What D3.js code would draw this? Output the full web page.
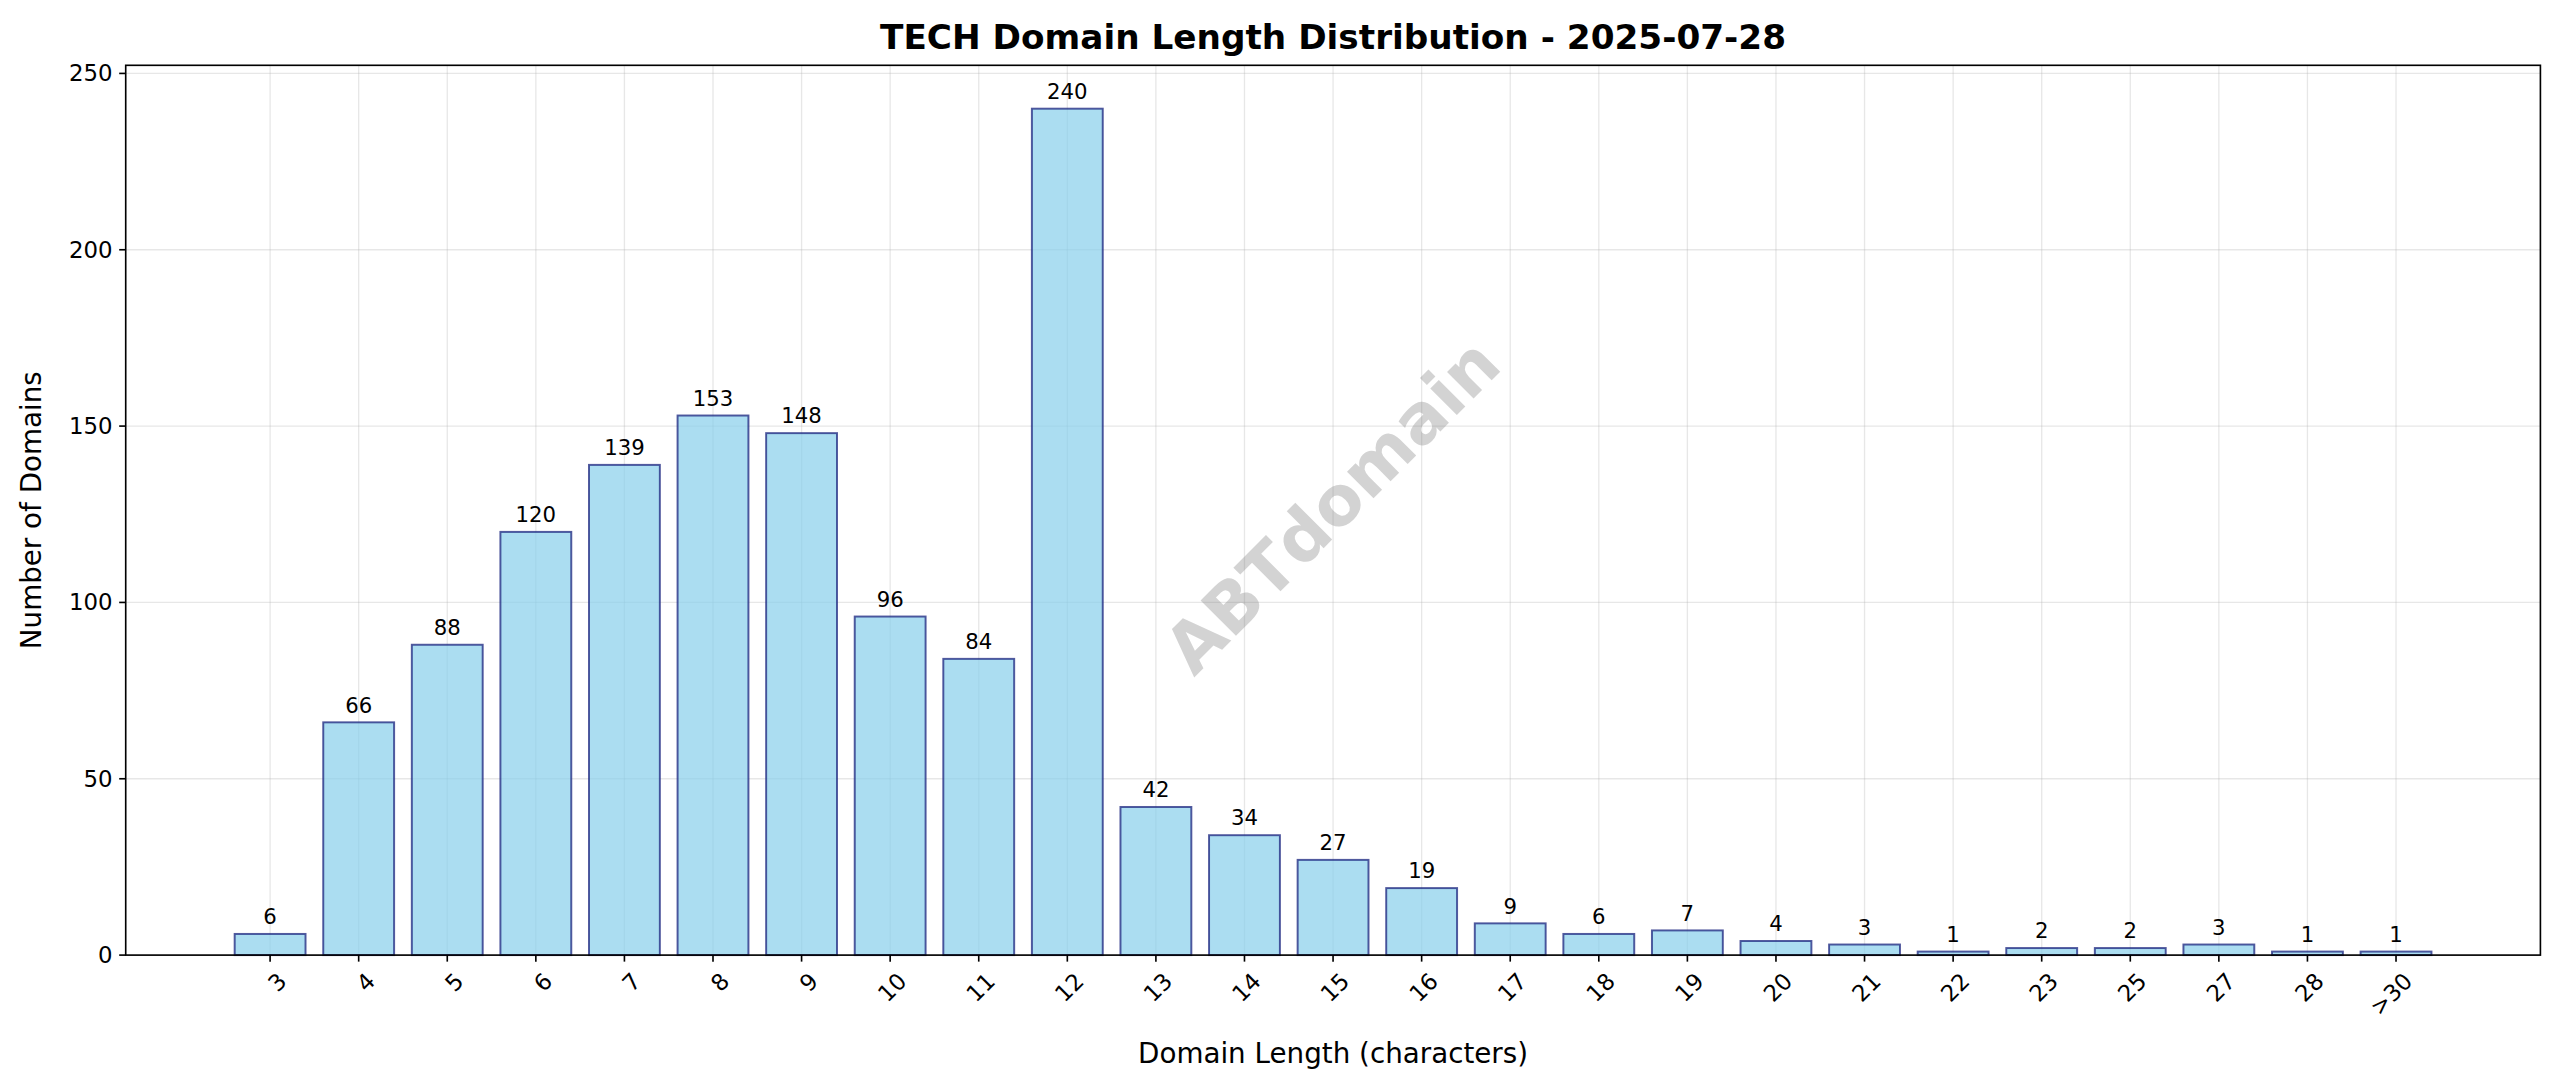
<!DOCTYPE html>
<html><head><meta charset="utf-8">
<script src="https://cdn.jsdelivr.net/npm/d3@7"></script>
<style>body{margin:0;background:#fff;font-family:"DejaVu Sans",sans-serif}</style>
</head><body><svg id="c" width="2560" height="1087"></svg>
<script>
const categories=["3","4","5","6","7","8","9","10","11","12","13","14","15","16","17","18","19","20","21","22","23","25","27","28",">30"];
const counts=[6,66,88,120,139,153,148,96,84,240,42,34,27,19,9,6,7,4,3,1,2,2,3,1,1];
const yTicks=[0,50,100,150,200,250];
const root=d3.select("#c");
const svg=root.append("g").attr("transform",`scale(${2560/1568})`);
const L=77,R=1556,T=40,B=585;
const x=d3.scaleLinear().domain([-1.63,categories.length-1+1.63]).range([L,R]);
const y=d3.scaleLinear().domain([0,252.3]).range([B,T]);
const g=svg.append("g");
g.selectAll(".gx").data(categories).join("line").attr("x1",(d,i)=>x(i)).attr("x2",(d,i)=>x(i)).attr("y1",T).attr("y2",B).attr("stroke","#b0b0b0").attr("stroke-opacity",0.3).attr("stroke-width",0.8);
g.selectAll(".gy").data(yTicks).join("line").attr("x1",L).attr("x2",R).attr("y1",d=>y(d)).attr("y2",d=>y(d)).attr("stroke","#b0b0b0").attr("stroke-opacity",0.3).attr("stroke-width",0.8);
const bw=x(0.4)-x(-0.4);
g.selectAll("rect.b").data(counts).join("rect").attr("x",(d,i)=>x(i)-bw/2).attr("width",bw).attr("y",d=>y(d)).attr("height",d=>B-y(d)).attr("fill","#87CEEB").attr("fill-opacity",0.7).attr("stroke","#1a237e").attr("stroke-opacity",0.75).attr("stroke-width",1.2);
g.selectAll("text.v").data(counts).join("text").attr("x",(d,i)=>x(i)).attr("y",d=>y(d)-6).attr("text-anchor","middle").attr("font-size",13).text(d=>d);
svg.append("text").attr("transform","translate(818,312) rotate(-45)").attr("text-anchor","middle").attr("dominant-baseline","middle").attr("font-size",42).attr("font-weight","bold").attr("fill","#808080").attr("fill-opacity",0.35).text("ABTdomain");
svg.append("rect").attr("x",L).attr("y",T).attr("width",R-L).attr("height",B-T).attr("fill","none").attr("stroke","#000").attr("stroke-width",1);
yTicks.forEach(t=>{svg.append("line").attr("x1",L-4).attr("x2",L).attr("y1",y(t)).attr("y2",y(t)).attr("stroke","#000");
svg.append("text").attr("x",L-8).attr("y",y(t)).attr("dy","0.35em").attr("text-anchor","end").attr("font-size",14).text(t);});
categories.forEach((c,i)=>{svg.append("line").attr("x1",x(i)).attr("x2",x(i)).attr("y1",B).attr("y2",B+4).attr("stroke","#000");
svg.append("text").attr("transform",`translate(${x(i)+4},${B+10}) rotate(-45)`).attr("text-anchor","end").attr("dy","0.7em").attr("font-size",14).text(c);});
svg.append("text").attr("x",(L+R)/2).attr("y",30).attr("text-anchor","middle").attr("font-size",21).attr("font-weight","bold").text("TECH Domain Length Distribution - 2025-07-28");
svg.append("text").attr("x",(L+R)/2).attr("y",651).attr("text-anchor","middle").attr("font-size",17).text("Domain Length (characters)");
svg.append("text").attr("transform",`translate(25,${(T+B)/2}) rotate(-90)`).attr("text-anchor","middle").attr("font-size",17).text("Number of Domains");
</script></body></html>
